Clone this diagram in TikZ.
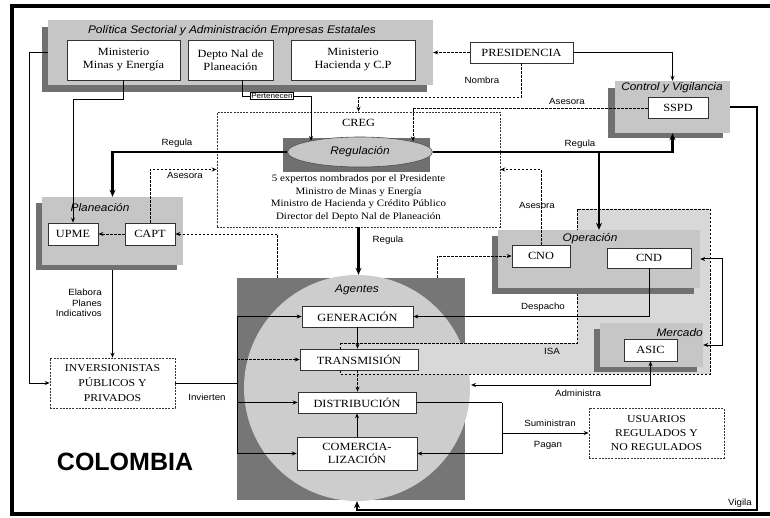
\documentclass[tikz,border=0pt]{standalone}
\usepackage{fontspec}
\setmainfont{Liberation Serif}[FakeStretch=1.12]
\newfontfamily\lsans{Liberation Sans}[FakeStretch=1.08]
\newfontfamily\lsansn{Liberation Sans}
\usetikzlibrary{arrows.meta,shapes.geometric,calc}
\definecolor{grpgray}{RGB}{198,198,198}
\definecolor{shadgray}{RGB}{112,112,112}
\definecolor{circgray}{RGB}{205,205,205}
\definecolor{darksq}{RGB}{118,118,118}
\definecolor{isagray}{RGB}{216,216,216}
\begin{document}
\begin{tikzpicture}[x=1pt,y=-1pt,
  >={Stealth[length=5pt,width=4pt]},
  wbox/.style={draw=black!80, line width=0.6pt, fill=white, inner sep=0pt, align=center, font=\fontsize{11}{13}\selectfont},
  dbox/.style={wbox, dash pattern=on 2pt off 1.2pt},
  grp/.style={fill=grpgray, inner sep=0pt},
  shd/.style={fill=shadgray},
  lbl/.style={font=\lsans\fontsize{9}{10.5}\selectfont, inner sep=1pt},
  ttl/.style={font=\lsans\itshape\fontsize{11}{12}\selectfont, inner sep=0pt},
  ln/.style={line width=1pt, ->},
  dln/.style={line width=0.9pt, dash pattern=on 2.5pt off 1.5pt, ->},
  hv/.style={line width=2.6pt, -{Stealth[length=7pt,width=6pt]}}]
\clip (0,0) rectangle (770,518);
\fill[white] (0,0) rectangle (770,518);
% frame
\draw[line width=3.5pt] (12,6) rectangle (800,514);

% Politica sectorial
\fill[shd] (42,27) rectangle (427,92);
\node[grp, minimum width=385pt, minimum height=65pt] (pol) at (240.5,52.5) {};
\node[ttl] (polt) at (232,31) {Política Sectorial y Administración Empresas Estatales};
\node[wbox, minimum width=113pt, minimum height=40pt] (minas) at (123.5,60) {Ministerio\\Minas y Energía};
\node[wbox, minimum width=85pt, minimum height=40pt] (depto) at (230.5,60) {Depto Nal de\\Planeación};
\node[wbox, minimum width=124pt, minimum height=40pt] (hac) at (353,60) {Ministerio\\Hacienda y C.P};

% Presidencia
\node[wbox, minimum width=103pt, minimum height=21pt] (pres) at (521.5,52.5) {PRESIDENCIA};

% Control y Vigilancia
\fill[shd] (608,88) rectangle (723,138);
\node[grp, minimum width=115pt, minimum height=52pt] (ctrl) at (672.5,107) {};
\node[ttl] (ctrlt) at (672,88) {Control y Vigilancia};
\node[wbox, minimum width=60pt, minimum height=21pt] (sspd) at (678,108) {SSPD};

% CREG
\node[dbox, minimum width=283pt, minimum height=115pt] (creg) at (358.5,169.5) {};
\node[font=\fontsize{11}{12}\selectfont] (cregt) at (358.5,123) {CREG};
\fill[shd] (283,138) rectangle (430,172);
\node[ellipse, draw=black!70, line width=0.6pt, fill=grpgray, minimum width=145pt, minimum height=30pt, inner sep=0pt] (regl) at (360,152) {};
\node[ttl] (reglt) at (360,152) {Regulación};
\node[align=center, font=\fontsize{9.8}{12.7}\selectfont] (cregm) at (358.5,198) {5 expertos nombrados por el Presidente\\Ministro de Minas y Energía\\Ministro de Hacienda y Crédito Público\\Director del Depto Nal de Planeación};

% Planeacion
\fill[shd] (36,203) rectangle (177,270);
\node[grp, minimum width=141pt, minimum height=68pt] (plan) at (112.5,231) {};
\node[ttl] (plant) at (100,208) {Planeación};
\node[wbox, minimum width=50pt, minimum height=22pt] (upme) at (73,234) {UPME};
\node[wbox, minimum width=50pt, minimum height=22pt] (capt) at (150,234) {CAPT};

% Inversionistas
\node[dbox, minimum width=125pt, minimum height=50pt, font=\fontsize{10.5}{15}\selectfont] (inv) at (112.5,383) {INVERSIONISTAS\\PÚBLICOS Y\\PRIVADOS};

% Agentes
\node[fill=darksq, minimum width=228pt, minimum height=222pt, inner sep=0pt] (agsq) at (351,389) {};
\node[ellipse, fill=circgray, minimum width=226pt, minimum height=226pt, inner sep=0pt] (agc) at (357,388) {};

% ISA band
\fill[isagray] (340,343) -- (577,343) -- (577,209) -- (710,209) -- (710,374) -- (340,374) -- cycle;
\draw[line width=0.8pt, dash pattern=on 2.5pt off 1.5pt] (340,343) -- (577,343) -- (577,209) -- (710,209) -- (710,374) -- (340,374) -- cycle;

% Operacion
\fill[shd] (492,236) rectangle (694,294);
\node[grp, minimum width=202pt, minimum height=58pt] (oper) at (599,259) {};
\node[ttl] (opert) at (590,239) {Operación};
\node[wbox, minimum width=58pt, minimum height=22pt] (cno) at (541,256) {CNO};
\node[wbox, minimum width=84pt, minimum height=20pt] (cnd) at (649,258) {CND};

% Mercado
\fill[shd] (594,329) rectangle (697,372);
\node[grp, minimum width=103pt, minimum height=44pt] (merc) at (651.5,345) {};
\node[ttl, anchor=east] (merct) at (703,333) {Mercado};
\node[wbox, minimum width=53pt, minimum height=22pt] (asic) at (650.5,350) {ASIC};

% Agentes boxes
\node[ttl] (agt) at (357,290) {Agentes};
\node[wbox, minimum width=111pt, minimum height=21pt] (gen) at (357.5,316.5) {GENERACIÓN};
\node[wbox, minimum width=118pt, minimum height=21pt] (tra) at (359,359.5) {TRANSMISIÓN};
\node[wbox, minimum width=118pt, minimum height=21pt] (dis) at (357,402.5) {DISTRIBUCIÓN};
\node[wbox, minimum width=120pt, minimum height=33pt] (com) at (357,453.5) {COMERCIA-\\LIZACIÓN};

% Usuarios
\node[dbox, minimum width=135pt, minimum height=50pt, font=\fontsize{10.5}{14}\selectfont] (usu) at (656.5,433) {USUARIOS\\REGULADOS Y\\NO REGULADOS};

% coordinates
\coordinate (n1) at (358.5,97);
\coordinate (a1e) at (413,141.5);
\coordinate (p0) at (242,80);
\coordinate (p1) at (311,97);
\coordinate (p1e) at (311,141);
\coordinate (m1) at (123.5,100);
\coordinate (c1) at (277,278);
\coordinate (c2) at (437,278);
\coordinate (v1) at (757,510);
\coordinate (s0) at (502,402.5);
\coordinate (s1) at (502,433);
\coordinate (l0) at (237,316.5);
\coordinate (l1) at (237,453.5);
\coordinate (e0) at (722,259);
\coordinate (ad) at (471,385);

% connectors
\draw[dln] (pres.west) -- (pol.east);
\draw[ln] (pres.east) -| (ctrl.north);
\draw[dln] (pres.south) |- (n1) -- (creg.north);
\draw[dln] (sspd.west) -| (a1e);
\draw[ln] (p0) |- (p1) -- (p1e);
\draw[ln] (minas.south) -- (m1) -| (upme.north);
\draw[ln] (pol.west) -- ++(-18,0) |- (inv.west);
\draw[hv] (regl.west) -| (plan.north);
\draw[dln] (capt.north) |- (creg.west);
\draw[dln] (capt.west) -- (upme.east);
\draw[dln] (c1) |- (capt.east);
\draw[ln] (plan.south) ++(0,5) -- (inv.north);
\draw[line width=1pt] (inv.east) -- (inv.east -| l0);
\draw[line width=1pt] (l0) -- (l1);
\draw[ln] (l0) -- (gen.west);
\draw[dln] (tra.west -| l0) -- (tra.west);
\draw[ln] (dis.west -| l0) -- (dis.west);
\draw[ln] (l1) -- (com.west);
\draw[hv] (creg.south) -- (creg.south |- agc.north);
\draw[ln] (gen.south) -- (gen.south |- tra.north);
\draw[dln] (tra.south -| gen.south) -- (gen.south |- dis.north);
\draw[ln] (com.north) -- (dis.south);
\draw[hv] (regl.east) -| (ctrl.south);
\draw[hv] (regl.east -| oper.north) -- (oper.north);
\draw[dln] (cno.north) |- (creg.east);
\draw[dln] (c2) |- (cno.west);
\draw[ln] (cnd.south) |- (gen.east);
\draw[line width=1pt, <->] (oper.east) -- (e0) |- (merc.east);
\draw[line width=1pt, <->] (ad) -| (asic.south);
\draw[line width=1pt] (dis.east) -- (s0);
\draw[ln] (s0) |- (com.east);
\draw[ln] (s1) -- (usu.west);
\draw[hv] (ctrl.east) -| (v1) -| (agc.south);

% labels
\node[draw, line width=0.9pt, fill=white, font=\lsans\fontsize{7.5}{8}\selectfont, inner sep=0.8pt] (pert) at (272,96) {Pertenecen};
\node[lbl] (lnom) at (482,80) {Nombra};
\node[lbl] (lase1) at (567,101) {Asesora};
\node[lbl] (lreg1) at (177,143) {Regula};
\node[lbl] (lreg2) at (580,144) {Regula};
\node[lbl] (lase2) at (185,175) {Asesora};
\node[lbl] (lase3) at (537,205) {Asesora};
\node[lbl] (lreg3) at (388,240) {Regula};
\node[lbl, align=right, anchor=east] (lelab) at (103,303) {Elabora\\Planes\\Indicativos};
\node[lbl] (linv) at (207,397) {Invierten};
\node[lbl] (ldes) at (543,307) {Despacho};
\node[lbl] (lisa) at (552,351) {ISA};
\node[lbl] (ladm) at (578,393) {Administra};
\node[lbl] (lsum) at (550,423) {Suministran};
\node[lbl] (lpag) at (548,445) {Pagan};
\node[lbl] (lvig) at (740,503) {Vigila};
\node[font=\lsansn\bfseries\fontsize{25}{28}\selectfont] (col) at (125,462) {COLOMBIA};
\end{tikzpicture}
\end{document}
